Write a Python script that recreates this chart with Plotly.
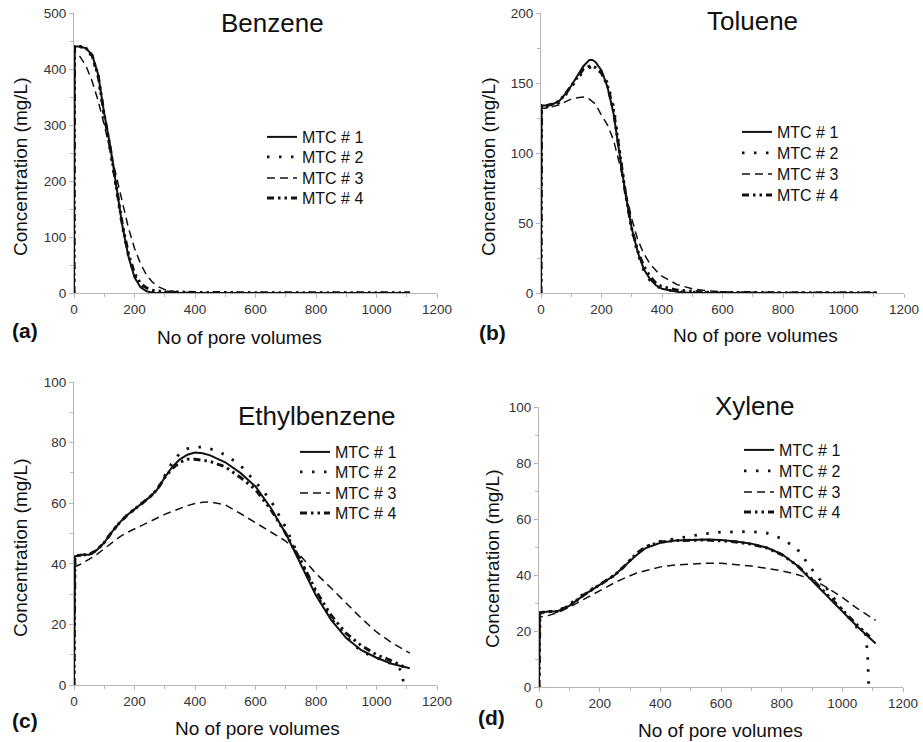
import plotly.graph_objects as go

W, H = 923, 742

# ---------------- data ----------------
series_names = ["MTC # 1", "MTC # 2", "MTC # 3", "MTC # 4"]

# (a) Benzene
benz_x = [0, 2, 20, 40, 60, 80, 100, 120, 140, 160, 180, 200, 220, 240, 260, 280, 300, 340, 400, 600, 800, 1000, 1110]
benz_mtc1 = [0, 440, 440, 437, 425, 390, 320, 262, 190, 120, 65, 28, 10, 3, 0.5, 0, 0, 0, 0, 0, 0, 0, 0]
benz_mtc2 = [0, 440, 440, 436, 422, 386, 315, 255, 185, 118, 66, 32, 14, 6, 2, 1, 0.5, 0, 0, 0, 0, 0, 0]
benz_mtc3 = [0, 430, 422, 405, 378, 343, 300, 255, 208, 160, 116, 80, 52, 32, 19, 11, 6, 2, 0.5, 0, 0, 0, 0]
benz_mtc4 = [0, 440, 440, 437, 424, 388, 318, 258, 190, 122, 70, 35, 17, 9, 5, 3, 2, 2, 1, 0.5, 0.5, 0.5, 0.5]

# (b) Toluene
tol_x = [0, 2, 20, 40, 60, 80, 100, 120, 140, 160, 170, 180, 200, 220, 240, 260, 280, 300, 320, 340, 360, 380, 400, 450, 500, 550, 600, 700, 800, 1000, 1110]
tol_mtc1 = [0, 134, 134, 135, 137, 142, 148, 155, 162, 166.5, 166.5, 165, 159, 147, 128, 99, 70, 46, 29, 17, 10, 5.5, 3, 0.8, 0, 0, 0, 0, 0, 0, 0]
tol_mtc2 = [0, 134, 133, 134, 136, 141, 147, 153, 158, 161, 161.5, 161, 158, 150, 133, 102, 70, 45, 28, 16, 9, 5, 3, 1, 0.5, 0, 0, 0, 0, 0, 0]
tol_mtc3 = [0, 132, 132, 133, 134.5, 136.5, 138.5, 139.5, 140, 138.5, 137, 135, 127, 120, 109, 92, 72, 53, 38, 28, 21, 16, 12, 6, 3, 1.5, 0.8, 0.3, 0, 0, 0]
tol_mtc4 = [0, 134, 134, 135, 137, 142, 148, 154, 160, 162, 162, 161, 157, 148, 130, 100, 70, 46, 30, 19, 12, 7, 4.5, 2, 1, 0.5, 0.3, 0.2, 0.2, 0.2, 0.2]

# (c) Ethylbenzene
eth_x = [0, 3, 25, 50, 75, 100, 125, 150, 175, 200, 225, 250, 275, 300, 325, 350, 375, 400, 425, 450, 500, 550, 600, 650, 700, 750, 800, 850, 900, 950, 1000, 1050, 1110]
eth_mtc1 = [0, 42.5, 43, 43, 44.5, 47, 50.5, 53.5, 56, 58, 60, 62, 64.5, 68.5, 72, 74.5, 76, 76.7, 76.5, 75.8, 73.5, 70, 65.5, 58.5, 50, 39.5, 29.5, 21.5, 15.5, 11.5, 9, 7, 5.5]
eth2_x = [0, 3, 25, 50, 75, 100, 125, 150, 175, 200, 225, 250, 275, 300, 325, 350, 375, 400, 425, 450, 500, 550, 600, 650, 700, 750, 800, 850, 900, 950, 1000, 1050, 1080, 1086, 1089]
eth_mtc2 = [0, 42, 43, 43, 44.5, 47, 50.5, 53.5, 56, 58, 60, 62, 64.5, 69, 73.5, 76.5, 78, 78.5, 78.5, 78, 76, 72.5, 67, 61, 52, 41, 30, 22, 16, 11, 9, 7, 5, 4.4, 0]
eth_mtc3 = [0, 39, 40, 41.5, 43, 45, 47, 48.8, 50.3, 51.5, 52.8, 54, 55.2, 56.3, 57.3, 58.3, 59.2, 59.9, 60.3, 60.4, 59.5, 56.6, 53.5, 50.5, 47.5, 42.5, 36.8, 32, 27, 22, 17.5, 14, 10.5]
eth4_x = [0, 3, 25, 50, 75, 100, 125, 150, 175, 200, 225, 250, 275, 300, 325, 350, 375, 400, 425, 450, 500, 550, 600, 650, 700, 750, 800, 850, 900, 950, 1000, 1050, 1090]
eth_mtc4 = [0, 42.5, 43, 43, 44.5, 47, 50.5, 53.5, 56, 58, 60, 62, 64.5, 68.5, 71.5, 73.5, 74.5, 74.5, 74.2, 73.8, 72, 68.5, 64.5, 58, 50, 41, 31, 23, 17, 13, 10, 8, 6]

# (d) Xylene
xyl_x = [0, 3, 30, 60, 100, 150, 200, 250, 280, 320, 350, 400, 450, 500, 550, 600, 650, 700, 750, 800, 850, 900, 950, 1000, 1050, 1110]
xyl_mtc1 = [0, 26.5, 27, 27, 29, 33, 36.5, 40, 43, 47, 49.5, 51.5, 52.3, 52.6, 52.7, 52.5, 52, 51.2, 49.8, 47.5, 43.5, 38, 32.5, 27, 21.5, 15.5]
xyl2_x = [0, 3, 30, 60, 100, 150, 200, 250, 280, 320, 350, 400, 450, 500, 550, 600, 650, 700, 750, 800, 850, 900, 950, 1000, 1050, 1078, 1084, 1087]
xyl_mtc2 = [0, 26.5, 27, 27, 29.5, 33.5, 36.5, 40, 43, 47.5, 50, 52, 53, 54, 54.8, 55.3, 55.5, 55.5, 55, 53, 49.5, 42, 35, 27.5, 21, 18.5, 10, 0]
xyl_mtc3 = [0, 25, 25.5, 26.5, 28.5, 31.5, 34.5, 37.3, 38.8, 40.6, 41.5, 42.9, 43.6, 44, 44.2, 44.2, 43.8, 43.2, 42.4, 41.5, 40.2, 38.5, 35.5, 32, 28, 23.8]
xyl4_x = [0, 3, 30, 60, 100, 150, 200, 250, 280, 320, 350, 400, 450, 500, 550, 600, 650, 700, 750, 800, 850, 900, 950, 1000, 1050, 1090]
xyl_mtc4 = [0, 26.5, 27, 27, 29, 33, 36.5, 40, 43, 47.5, 50, 51.8, 52.3, 52.5, 52.5, 52.2, 51.8, 51, 49.7, 47.3, 43.5, 38.5, 33, 27.5, 22, 18]

panel_titles = ["Benzene", "Toluene", "Ethylbenzene", "Xylene"]
panel_labels = ["(a)", "(b)", "(c)", "(d)"]
y_ranges = [[0, 500], [0, 200], [0, 100], [0, 100]]
y_dticks = [100, 50, 20, 20]
x_range = [0, 1200]
x_dtick = 200

panels = [
    [(benz_x, benz_mtc1), (benz_x, benz_mtc2), (benz_x, benz_mtc3), (benz_x, benz_mtc4)],
    [(tol_x, tol_mtc1), (tol_x, tol_mtc2), (tol_x, tol_mtc3), (tol_x, tol_mtc4)],
    [(eth_x, eth_mtc1), (eth2_x, eth_mtc2), (eth_x, eth_mtc3), (eth4_x, eth_mtc4)],
    [(xyl_x, xyl_mtc1), (xyl2_x, xyl_mtc2), (xyl_x, xyl_mtc3), (xyl4_x, xyl_mtc4)],
]

# ---------------- styling / layout (window pixels) ----------------
def px(x):
    return x / W

def py(y):
    return 1 - y / H

# plot-area boxes: left, right, top, bottom in pixels
boxes = [(74, 437, 13, 293), (541, 904, 13, 293), (74, 437, 382, 685), (539, 903, 407, 687)]
legend_text_left = [302, 777, 335, 779]
legend_rows = [[134, 154, 175, 195], [129, 150, 171, 192], [449, 469, 490, 510], [447, 468, 489, 509]]
title_pos = [(272, 23), (752, 21), (317, 416), (755, 406)]
xtitle_pos = [(240, 337), (755, 335), (257, 728), (720, 730)]
ytitle_pos = [(20, 167), (488, 167), (20, 548), (492, 559)]
label_pos = [(25, 331), (492, 332), (25, 720), (491, 717)]

line_styles = [
    dict(color="#111111", width=2, dash="solid"),
    dict(color="#111111", width=2.8, dash="2.5px,9.5px"),
    dict(color="#111111", width=1.5, dash="8px,5px"),
    dict(color="#111111", width=3, dash="7px,4px,2.5px,4px,2.5px,4px"),
]

FONT = "Liberation Sans, Arial, sans-serif"
AXIS_COLOR = "#b5b5b5"

fig = go.Figure()
layout = dict(
    template="none",
    width=W, height=H,
    margin=dict(l=0, r=0, t=0, b=0, pad=0),
    paper_bgcolor="white", plot_bgcolor="white",
    font=dict(family=FONT, color="#222222"),
    showlegend=True,
)
annotations = []

legend_counter = 0
for i, series in enumerate(panels):
    n = "" if i == 0 else str(i + 1)
    l, r, t, b = boxes[i]
    for j, (xs, ys) in enumerate(series):
        legend_counter += 1
        leg = "legend" if legend_counter == 1 else f"legend{legend_counter}"
        fig.add_trace(go.Scatter(
            x=xs, y=ys, mode="lines", name=series_names[j],
            line=line_styles[j], xaxis="x" + n, yaxis="y" + n,
            legend=leg, cliponaxis=True,
        ))
        layout[leg] = dict(
            x=px(legend_text_left[i] - 40), y=py(legend_rows[i][j] + 3), xanchor="left", yanchor="middle",
            bgcolor="rgba(0,0,0,0)", borderwidth=0,
            font=dict(family=FONT, size=16, color="#111111"),
            tracegroupgap=0, itemwidth=30,
        )
    common = dict(
        showline=True, linecolor=AXIS_COLOR, linewidth=1,
        ticks="outside", ticklen=4, tickcolor=AXIS_COLOR, tickwidth=1,
        showgrid=False, zeroline=False, automargin=False, ticklabeloverflow="allow",
        tickfont=dict(family=FONT, size=13.5, color="#333333"),
    )
    layout["xaxis" + n] = dict(
        common, domain=[px(l), px(r)], range=x_range, dtick=x_dtick, tick0=0,
        anchor="y" + n,
        minor=dict(ticks="outside", ticklen=3, dtick=100, tickcolor=AXIS_COLOR, showgrid=False),
    )
    layout["yaxis" + n] = dict(
        common, domain=[py(b), py(t)], range=y_ranges[i], dtick=y_dticks[i], tick0=0,
        anchor="x" + n,
        minor=dict(ticks="outside", ticklen=3, dtick=y_dticks[i] / 2, tickcolor=AXIS_COLOR, showgrid=False),
    )
    tx, ty = title_pos[i]
    annotations.append(dict(text=panel_titles[i], x=px(tx), y=py(ty), xref="paper", yref="paper",
                            xanchor="center", yanchor="middle", showarrow=False,
                            font=dict(family=FONT, size=26, color="#111111")))
    tx, ty = xtitle_pos[i]
    annotations.append(dict(text="No of pore volumes", x=px(tx), y=py(ty), xref="paper", yref="paper",
                            xanchor="center", yanchor="middle", showarrow=False,
                            font=dict(family=FONT, size=19, color="#111111")))
    tx, ty = ytitle_pos[i]
    annotations.append(dict(text="Concentration (mg/L)", x=px(tx), y=py(ty), xref="paper", yref="paper",
                            xanchor="center", yanchor="middle", showarrow=False, textangle=-90,
                            font=dict(family=FONT, size=19, color="#111111")))
    tx, ty = label_pos[i]
    annotations.append(dict(text="<b>" + panel_labels[i] + "</b>", x=px(tx), y=py(ty), xref="paper", yref="paper",
                            xanchor="center", yanchor="middle", showarrow=False,
                            font=dict(family=FONT, size=21, color="#111111")))

layout["annotations"] = annotations
fig.update_layout(**layout)
# remove the default 8px page margin so the 923x742 figure fills the window exactly
fig.write_html("out.html", config={"displayModeBar": False},
               post_script="document.body.style.margin='0px';")
